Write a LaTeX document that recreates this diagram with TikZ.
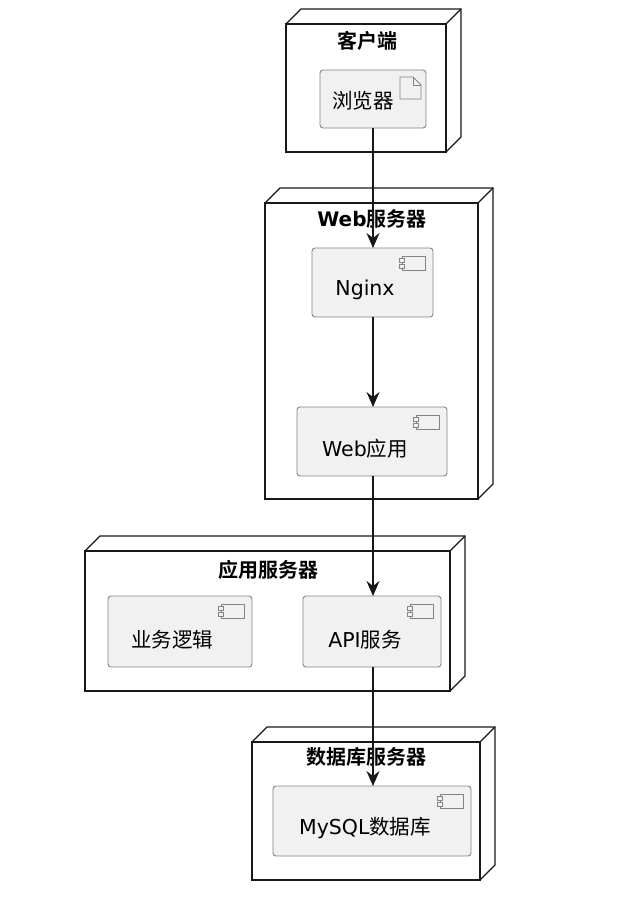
\documentclass[tikz,border=0pt]{standalone}
\usepackage{fontspec}
\setmainfont{DejaVu Sans}
\newfontfamily\cjk{Noto Sans CJK SC}[BoldFont={Noto Sans CJK SC Bold}]
\usetikzlibrary{arrows.meta,calc}
\definecolor{compfill}{HTML}{F1F1F1}
\definecolor{compdraw}{HTML}{858585}
\definecolor{ink}{HTML}{181818}
\begin{document}
\begin{tikzpicture}[x=1pt,y=-1pt,
  nodebox/.style={draw=ink, line width=1.3pt, fill=white, inner sep=0pt, outer sep=0pt},
  face/.style={draw=ink, line width=1.3pt, line join=miter},
  comp/.style={draw=compdraw, fill=compfill, rounded corners=3pt, line width=0.9pt, inner sep=0pt, outer sep=0pt},
  icon/.style={draw=compdraw, fill=compfill, line width=0.8pt},
  title/.style={font=\fontsize{20}{24}\selectfont\bfseries, inner sep=0pt},
  ctext/.style={font=\fontsize{20.5}{24}\selectfont, inner sep=0pt},
  arr/.style={draw=ink, line width=1.3pt, -{Stealth[length=15pt,width=13pt,inset=5pt]}}
]
\useasboundingbox (0,0) rectangle (624,897);

% ---- node boxes ----
\node[nodebox, minimum width=160pt, minimum height=128pt] (client) at (366,88) {};
\draw[face] (client.north west) -- ++(15,-15) -| ($(client.south east)+(15,-15)$) -- (client.south east);
\draw[face] (client.north east) -- ++(15,-15);
\node[title] (clientT) at (367,41) {\cjk 客户端};

\node[nodebox, minimum width=213pt, minimum height=296pt] (web) at (371.5,351) {};
\draw[face] (web.north west) -- ++(15,-15) -| ($(web.south east)+(15,-15)$) -- (web.south east);
\draw[face] (web.north east) -- ++(15,-15);
\node[title] (webT) at (372,219) {Web{\cjk 服务器}};

\node[nodebox, minimum width=365pt, minimum height=140pt] (app) at (267.5,621) {};
\draw[face] (app.north west) -- ++(15,-15) -| ($(app.south east)+(15,-15)$) -- (app.south east);
\draw[face] (app.north east) -- ++(15,-15);
\node[title] (appT) at (268.5,569.5) {\cjk 应用服务器};

\node[nodebox, minimum width=228pt, minimum height=138pt] (db) at (366,811) {};
\draw[face] (db.north west) -- ++(15,-15) -| ($(db.south east)+(15,-15)$) -- (db.south east);
\draw[face] (db.north east) -- ++(15,-15);
\node[title] (dbT) at (366,757) {\cjk 数据库服务器};

% ---- browser artifact ----
\node[comp, minimum width=106pt, minimum height=58pt] (browser) at (373,99) {};
\node[ctext] (browserT) at (363,101) {\cjk 浏览器};
\draw[icon] ($(browser.north east)+(-26,7)$) -- ($(browser.north east)+(-13,7)$) -- ($(browser.north east)+(-5,15)$) -- ($(browser.north east)+(-5,29)$) -- ($(browser.north east)+(-26,29)$) -- cycle;
\draw[icon, fill=none] ($(browser.north east)+(-13,7)$) -- ($(browser.north east)+(-13,15)$) -- ($(browser.north east)+(-5,15)$);

% ---- components ----
\newcommand{\compicon}[1]{%
  \draw[icon] ($(#1.north east)+(-31,8)$) rectangle ($(#1.north east)+(-8,22)$);
  \draw[icon] ($(#1.north east)+(-34,10)$) rectangle ($(#1.north east)+(-29,14)$);
  \draw[icon] ($(#1.north east)+(-34,16)$) rectangle ($(#1.north east)+(-29,20)$);}

\node[comp, minimum width=121pt, minimum height=69pt] (nginx) at (372.5,282.5) {};
\node[ctext] (nginxT) at (365,290) {Nginx};
\compicon{nginx}

\node[comp, minimum width=150pt, minimum height=69pt] (webapp) at (372,441.5) {};
\node[ctext] (webappT) at (365,449) {Web{\cjk 应用}};
\compicon{webapp}

\node[comp, minimum width=144pt, minimum height=71pt] (biz) at (180,631.5) {};
\node[ctext] (bizT) at (172,640) {\cjk 业务逻辑};
\compicon{biz}

\node[comp, minimum width=138pt, minimum height=71pt] (api) at (372,631.5) {};
\node[ctext] (apiT) at (365,640) {API{\cjk 服务}};
\compicon{api}

\node[comp, minimum width=198pt, minimum height=70pt] (mysql) at (372,821) {};
\node[ctext] (mysqlT) at (365,828) {MySQL{\cjk 数据库}};
\compicon{mysql}

% ---- connectors ----
\draw[arr] (browser.south) -- (browser.south |- nginx.north);
\draw[arr] (browser.south |- nginx.south) -- (browser.south |- webapp.north);
\draw[arr] (browser.south |- webapp.south) -- (browser.south |- api.north);
\draw[arr] (browser.south |- api.south) -- (browser.south |- mysql.north);
\end{tikzpicture}
\end{document}
